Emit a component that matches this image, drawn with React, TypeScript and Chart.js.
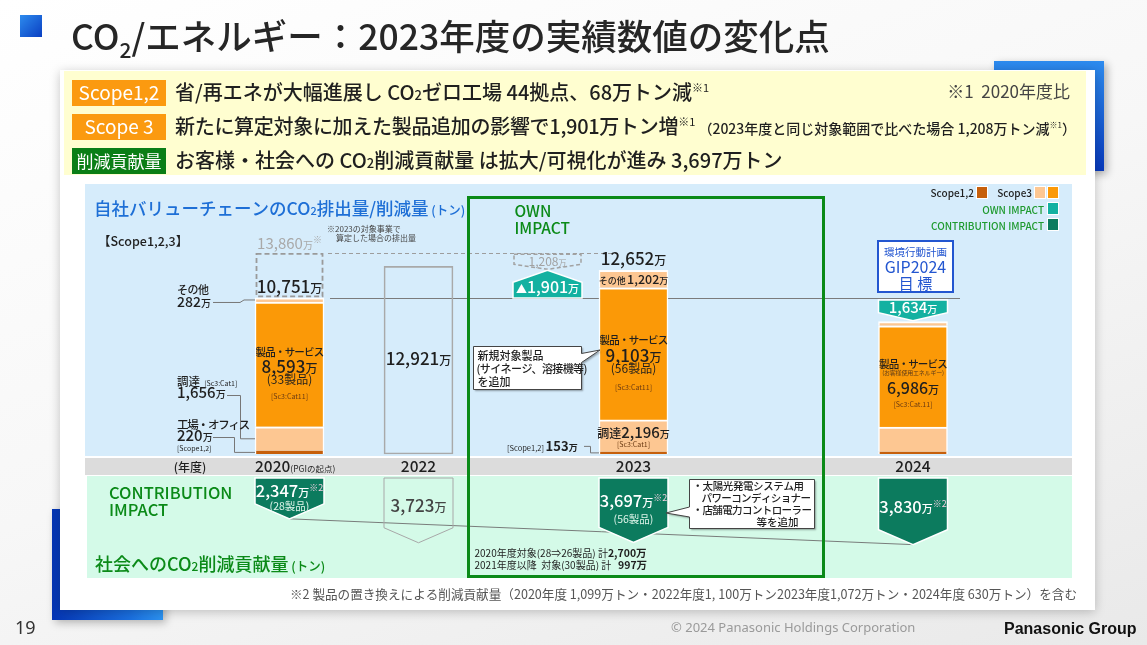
import React, { useEffect, useRef } from 'react';
import { Chart, registerables } from 'chart.js';

Chart.register(...registerables);

const JP = '"Noto Sans CJK JP", "Noto Sans", sans-serif';

// ===== data (unit: 万トン) =====
const fiscalYears = ['2020', '2022', '2023', '2024'];
const scope12 = [220, null, 153, 150];
const procurement = [1656, null, 2196, 1700];
const productsServices = [8593, null, 9103, 6986];
const otherScope3 = [282, null, 1202, 281];
const totalOnly = [null, 12921, null, null];
const totals = [10751, 12921, 12652, 9117];
const comparable2020 = 13860;
const ownIncrease = 1901;
const ownDecrease = 1208;
const gipReduction = 1634;
const productCounts = ['33製品', null, '56製品', null];
const contribution = [2347, 3723, 3697, 3830];
const contributionCounts = ['28製品', null, '56製品', null];
const contributionTrend = [2347, null, null, 3830];

// ===== layout =====
const W = 1147;
const H = 645;
const SLOTS = 30;
const yearSlot = [0, 6, 16, 29];
const ownSlot = 12;
const AREA = { left: 278.75, right: 923.75, top: 184, bottom: 454 };
const Y_MAX = 18600;
const C_TOP = 478;
const C_PX = 0.0174;
const y2Min = -(C_TOP - AREA.top) / C_PX;
const y2Max = y2Min + (AREA.bottom - AREA.top) / C_PX;
const BAR_W = 69;

const COL = {
  scope12: '#c65f0b',
  peach: '#fdc792',
  orange: '#fb9907',
  teal: '#13b1a1',
  dkgreen: '#0c7b5e',
  green: '#0b8a18',
  blue: '#1e6fd6',
  panel: '#d6ecfb',
  band: '#dcdcdc',
  cpanel: '#d4fae8',
  text: '#1f1f1f',
};

const DS = { scope: 0, proc: 1, prod: 2, other: 3, total: 4, cmp: 5, ownDec: 6, ownInc: 7, gip: 8, contrib: 9, trend: 10 };

function toSlots(vals: any[]) {
  const out: any[] = new Array(SLOTS).fill(null);
  vals.forEach((v, i) => { out[yearSlot[i]] = v; });
  return out;
}
function single(slot: number, v: any) {
  const out: any[] = new Array(SLOTS).fill(null);
  out[slot] = v;
  return out;
}

type Run = { t: string; s: number; w?: number; c?: string; dy?: number; f?: string; ls?: number };
const fontOf = (r: Run) => `${r.w ?? 400} ${r.s}px ${r.f ?? JP}`;

function setLs(ctx: any, v: number) {
  if ('letterSpacing' in ctx) ctx.letterSpacing = `${v}px`;
}

function runs(ctx: CanvasRenderingContext2D, x: number, y: number, rs: Run[], align: 'left' | 'center' | 'right' = 'left', color = COL.text) {
  const ws = rs.map(r => {
    ctx.font = fontOf(r);
    setLs(ctx, r.ls ?? 0);
    const m = ctx.measureText(r.t).width;
    setLs(ctx, 0);
    return m;
  });
  const total = ws.reduce((a, b) => a + b, 0);
  let cx = align === 'left' ? x : align === 'center' ? x - total / 2 : x - total;
  ctx.textAlign = 'left';
  ctx.textBaseline = 'alphabetic';
  rs.forEach((r, i) => {
    ctx.font = fontOf(r);
    setLs(ctx, r.ls ?? 0);
    ctx.fillStyle = r.c ?? color;
    ctx.fillText(r.t, cx, y + (r.dy ?? 0));
    setLs(ctx, 0);
    cx += ws[i];
  });
  return total;
}
const fmt = (n: number) => n.toLocaleString('en-US');
function man(n: number, s: number, extra: Partial<Run> = {}): Run[] {
  return [{ t: fmt(n), s, w: 500, ...extra }, { t: '万', s: Math.round(s * 0.68), w: 500, ...extra }];
}
function path(ctx: CanvasRenderingContext2D, pts: number[][], close = false) {
  ctx.beginPath();
  pts.forEach(([x, y], i) => (i ? ctx.lineTo(x, y) : ctx.moveTo(x, y)));
  if (close) ctx.closePath();
}
function line(ctx: CanvasRenderingContext2D, pts: number[][], color: string, lw = 1, dash: number[] = []) {
  ctx.save();
  ctx.setLineDash(dash);
  ctx.strokeStyle = color;
  ctx.lineWidth = lw;
  path(ctx, pts);
  ctx.stroke();
  ctx.restore();
}
function geo(chart: any, ds: number, slot: number) {
  const e: any = chart.getDatasetMeta(ds).data[slot];
  const top = Math.min(e.y, e.base);
  const bottom = Math.max(e.y, e.base);
  return { x: e.x, left: e.x - e.width / 2, right: e.x + e.width / 2, top, bottom, mid: (top + bottom) / 2, w: e.width };
}
function downShape(l: number, r: number, t: number, tip: number, sh: number) {
  const cx = (l + r) / 2;
  return [[l, t], [r, t], [r, tip - sh], [cx, tip], [l, tip - sh]];
}
function callout(ctx: CanvasRenderingContext2D, pts: number[][]) {
  ctx.save();
  ctx.shadowColor = 'rgba(0,0,0,0.35)';
  ctx.shadowOffsetX = 1.5;
  ctx.shadowOffsetY = 1.5;
  ctx.shadowBlur = 2;
  ctx.fillStyle = '#fff';
  path(ctx, pts, true);
  ctx.fill();
  ctx.restore();
  ctx.strokeStyle = '#444';
  ctx.lineWidth = 1;
  path(ctx, pts, true);
  ctx.stroke();
}

const slidePlugin = {
  id: 'slide',
  beforeDatasetsDraw(chart: any) {
    const ctx: CanvasRenderingContext2D = chart.ctx;
    const y = chart.scales.y;
    ctx.save();
    ctx.fillStyle = COL.panel; ctx.fillRect(85, 184, 987, 272);
    ctx.fillStyle = COL.band; ctx.fillRect(85, 458, 987, 17);
    ctx.fillStyle = COL.cpanel; ctx.fillRect(87, 476, 985, 102);
    const b20 = geo(chart, DS.prod, yearSlot[0]);
    const yB = Math.round(y.getPixelForValue(totals[0])) + 0.5;
    line(ctx, [[b20.right + 6, yB], [960, yB]], '#7b7b7b', 1);
    const yC = Math.round(y.getPixelForValue(comparable2020)) + 0.5;
    line(ctx, [[b20.right + 4, yC], [618, yC]], '#9d9d9d', 1, [4, 3]);
    ctx.restore();
  },
  afterDatasetsDraw(chart: any) {
    const ctx: CanvasRenderingContext2D = chart.ctx;
    const xs = yearSlot.map(s => chart.scales.x.getPixelForValue(s));
    ctx.save();

    // ---- slide title ----
    runs(ctx, 71, 50, [
      { t: 'CO', s: 35.5, w: 500 }, { t: '2', s: 21, w: 500, dy: 8 },
      { t: '/エネルギー：2023年度の実績数値の変化点', s: 35.5, w: 500 },
    ], 'left', '#262626');

    // ---- summary rows ----
    const rowTop = [80, 114, 148];
    const tags = [
      { t: 'Scope1,2', c: '#fb9a10', s: 19 },
      { t: 'Scope 3', c: '#fb9a10', s: 19 },
      { t: '削減貢献量', c: '#0a7e16', s: 17 },
    ];
    tags.forEach((g, i) => {
      ctx.fillStyle = g.c;
      ctx.fillRect(72, rowTop[i], 94, 26);
      runs(ctx, 119, rowTop[i] + 20, [{ t: g.t, s: g.s, w: 400 }], 'center', '#fff');
    });
    runs(ctx, 175, rowTop[0] + 20, [
      { t: '省/再エネが大幅進展し CO', s: 20, w: 500 }, { t: '2', s: 13, w: 500 },
      { t: 'ゼロ工場 44拠点、68万トン減', s: 20, w: 500 }, { t: '※1', s: 11, dy: -8 },
    ]);
    runs(ctx, 1070, rowTop[0] + 18, [{ t: '※1  2020年度比', s: 17 }], 'right', '#444');
    runs(ctx, 175, rowTop[1] + 20, [
      { t: '新たに算定対象に加えた製品追加の影響で1,901万トン増', s: 20, w: 500, ls: -0.3 }, { t: '※1', s: 11, dy: -8 },
      { t: ' （2023年度と同じ対象範囲で比べた場合 1,208万トン減', s: 14, w: 500 }, { t: '※1', s: 8, dy: -6 },
      { t: '）', s: 14, w: 500 },
    ]);
    runs(ctx, 175, rowTop[2] + 20, [
      { t: 'お客様・社会への CO', s: 20, w: 500 }, { t: '2', s: 13, w: 500 },
      { t: '削減貢献量 は拡大/可視化が進み 3,697万トン', s: 20, w: 500 },
    ]);

    // ---- panel titles ----
    runs(ctx, 94, 215, [
      { t: '自社バリューチェーンのCO', s: 17.5, w: 500 }, { t: '2', s: 11, w: 500 },
      { t: '排出量/削減量', s: 17.5, w: 500 }, { t: ' (トン)', s: 12.5, w: 500 },
    ], 'left', COL.blue);
    runs(ctx, 98, 246, [{ t: '【Scope1,2,3】', s: 12.5, w: 500 }]);

    // ---- legend ----
    const sw = (x: number, yy: number, c: string) => {
      ctx.fillStyle = '#fff'; ctx.fillRect(x - 1, yy - 1, 12, 13);
      ctx.fillStyle = c; ctx.fillRect(x, yy, 10, 11);
    };
    runs(ctx, 974, 197, [{ t: 'Scope1,2', s: 10, w: 500 }], 'right');
    sw(977, 187, COL.scope12);
    runs(ctx, 1032, 197, [{ t: 'Scope3', s: 10, w: 500 }], 'right');
    sw(1035, 187, COL.peach);
    sw(1048, 187, COL.orange);
    runs(ctx, 1044, 214, [{ t: 'OWN IMPACT', s: 10, w: 500 }], 'right', '#1e9a2e');
    sw(1048, 203, COL.teal);
    runs(ctx, 1044, 230, [{ t: 'CONTRIBUTION IMPACT', s: 10, w: 500 }], 'right', '#1e9a2e');
    sw(1048, 219, COL.dkgreen);

    // ---- OWN IMPACT frame ----
    const fL = Math.round(xs[2] - 166) + 0.5;
    ctx.strokeStyle = COL.green;
    ctx.lineWidth = 3;
    ctx.strokeRect(fL, 197.5, 355, 379);
    runs(ctx, fL + 46, 217, [{ t: 'OWN', s: 15.5, w: 500 }], 'left', COL.green);
    runs(ctx, fL + 46, 234, [{ t: 'IMPACT', s: 15.5, w: 500 }], 'left', COL.green);

    // ---- 2020 ----
    const cmp = geo(chart, DS.cmp, yearSlot[0]);
    ctx.save();
    ctx.setLineDash([5, 3]);
    ctx.strokeStyle = '#9a9a9a';
    ctx.lineWidth = 1.8;
    ctx.strokeRect(cmp.left + 1.5, cmp.top + 1, cmp.w - 3, cmp.bottom - cmp.top - 2.5);
    ctx.restore();
    runs(ctx, cmp.x, cmp.top - 4, [...man(comparable2020, 15, { c: '#a9a9a9', w: 400 }), { t: '※', s: 9, c: '#a9a9a9', dy: -6 }], 'center');
    runs(ctx, cmp.right + 3, cmp.top - 21, [{ t: '※2023の対象事業で', s: 8 }], 'left', '#444');
    runs(ctx, cmp.right + 12, cmp.top - 12, [{ t: '算定した場合の排出量', s: 8 }], 'left', '#444');
    runs(ctx, cmp.x, cmp.bottom - 5, man(totals[0], 17, { w: 500 }), 'center');

    const o20 = geo(chart, DS.other, yearSlot[0]);
    const p20 = geo(chart, DS.proc, yearSlot[0]);
    const s20 = geo(chart, DS.scope, yearSlot[0]);
    const m20 = geo(chart, DS.prod, yearSlot[0]);
    runs(ctx, 177, o20.mid - 6, [{ t: 'その他', s: 11, w: 500, ls: -0.5 }]);
    runs(ctx, 177, o20.mid + 7, man(otherScope3[0], 14));
    line(ctx, [[213, o20.mid + 2.5], [240, o20.mid + 2.5], [244, o20.mid], [o20.left, o20.mid]], '#777');
    runs(ctx, 177, 386, [{ t: '調達 ', s: 11.5, w: 500 }, { t: ' [Sc3:Cat1]', s: 7 }]);
    runs(ctx, 177, 398, man(procurement[0], 15));
    line(ctx, [[227, 395.5], [240.5, 395.5], [240.5, p20.mid], [p20.left, p20.mid]], '#777');
    runs(ctx, 177, 429, [{ t: '工場・オフィス', s: 11.5, w: 500, ls: -1.2 }]);
    runs(ctx, 177, 441, man(scope12[0], 15));
    runs(ctx, 177, 451, [{ t: '[Scope1,2]', s: 7 }]);
    line(ctx, [[213, 437.5], [234.5, 437.5], [234.5, s20.mid], [s20.left, s20.mid]], '#777');

    const prodText = (g: any, i: number, off: number[], numSize: number) => {
      runs(ctx, g.x, g.mid + off[0], [{ t: '製品・サービス', s: 10.5, w: 500, ls: -0.8 }], 'center');
      runs(ctx, g.x, g.mid + off[1], man(productsServices[i], numSize), 'center');
      runs(ctx, g.x, g.mid + off[2], [{ t: `(${productCounts[i]})`, s: 12 }], 'center');
      runs(ctx, g.x, g.mid + off[3], [{ t: '[Sc3:Cat11]', s: 7 }], 'center', '#6b3a12');
    };
    prodText(m20, 0, [-8, 9, 20, 35], 17);

    // ---- 2022 ----
    const t22 = geo(chart, DS.total, yearSlot[1]);
    runs(ctx, t22.x, t22.mid + 5, man(totalOnly[1] as number, 17), 'center');

    // ---- OWN IMPACT shapes ----
    const dec = geo(chart, DS.ownDec, ownSlot);
    const dTop = dec.top + 1.5;
    ctx.save();
    ctx.setLineDash([4, 2.5]);
    ctx.strokeStyle = '#a2a2a2';
    ctx.lineWidth = 1.5;
    path(ctx, downShape(dec.left + 1, dec.right - 1, dTop, dec.bottom - 1, 5), true);
    ctx.stroke();
    ctx.restore();
    runs(ctx, dec.x, dTop + 12, man(ownDecrease, 12, { c: '#a2a2a2', w: 400 }), 'center');

    const inc = geo(chart, DS.ownInc, ownSlot);
    path(ctx, [[inc.left, inc.bottom], [inc.left, inc.top + 12], [inc.x, inc.top], [inc.right, inc.top + 12], [inc.right, inc.bottom]], true);
    ctx.fillStyle = COL.teal;
    ctx.fill();
    ctx.strokeStyle = '#fff';
    ctx.lineWidth = 1.5;
    ctx.stroke();
    runs(ctx, inc.x, inc.bottom - 5, [{ t: '▲', s: 11, c: '#fff' }, ...man(ownIncrease, 16, { c: '#fff' })], 'center');

    // ---- 2023 ----
    const o23 = geo(chart, DS.other, yearSlot[2]);
    const p23 = geo(chart, DS.proc, yearSlot[2]);
    const s23 = geo(chart, DS.scope, yearSlot[2]);
    const m23 = geo(chart, DS.prod, yearSlot[2]);
    runs(ctx, o23.x, o23.top - 5, man(totals[2], 17), 'center');
    runs(ctx, o23.x, o23.mid + 4.5, [{ t: 'その他', s: 9, w: 500 }, { t: ' ', s: 6 }, ...man(otherScope3[2], 12.5)], 'center');
    prodText(m23, 2, [-10, 8, 19, 36], 17);
    runs(ctx, p23.x, p23.mid + 2, [{ t: '調達', s: 12, w: 500 }, ...man(procurement[2], 15)], 'center');
    runs(ctx, p23.x, p23.mid + 11, [{ t: '[Sc3:Cat1]', s: 7 }], 'center', '#6b3a12');
    runs(ctx, 507, s23.mid - 2, [{ t: '[Scope1,2] ', s: 7.5 }, ...man(scope12[2], 13, { w: 600 })]);
    line(ctx, [[584, s23.mid - 6.5], [590.5, s23.mid - 6.5], [590.5, s23.mid], [s23.left, s23.mid]], '#777');

    // callout: new products
    const cb = { l: 473.5, r: 581.5, t: 346.5, b: 389.5 };
    callout(ctx, [[cb.l, cb.t], [cb.r, cb.t], [cb.r, cb.t + 7], [m23.left + 1, 350], [cb.r, cb.t + 16], [cb.r, cb.b], [cb.l, cb.b]]);
    runs(ctx, cb.l + 4, 360, [{ t: '新規対象製品', s: 11, w: 500 }]);
    runs(ctx, cb.l + 3, 373, [{ t: '(サイネージ、溶接機等)', s: 11, w: 500, ls: -0.6 }]);
    runs(ctx, cb.l + 4, 386, [{ t: 'を追加', s: 11, w: 500 }]);

    // ---- 2024 ----
    const gx = xs[3];
    ctx.fillStyle = '#fff';
    ctx.fillRect(gx - 35, 241, 75, 51);
    ctx.strokeStyle = '#2356d0';
    ctx.lineWidth = 2;
    ctx.strokeRect(gx - 35, 241, 75, 51);
    runs(ctx, gx + 2.5, 256, [{ t: '環境行動計画', s: 10.5 }], 'center', '#2356d0');
    runs(ctx, gx + 2.5, 273, [{ t: 'GIP2024', s: 16 }], 'center', '#2356d0');
    runs(ctx, gx + 2.5, 289, [{ t: '目 標', s: 15 }], 'center', '#2356d0');

    const gp = geo(chart, DS.gip, yearSlot[3]);
    path(ctx, downShape(gp.left, gp.right, gp.top + 2, gp.bottom - 1, 8), true);
    ctx.fillStyle = COL.teal;
    ctx.fill();
    ctx.strokeStyle = '#fff';
    ctx.lineWidth = 1.5;
    ctx.stroke();
    runs(ctx, gp.x, gp.top + 15, man(gipReduction, 15, { c: '#fff' }), 'center');

    const m24 = geo(chart, DS.prod, yearSlot[3]);
    runs(ctx, m24.x, m24.mid - 8.5, [{ t: '製品・サービス', s: 10.5, w: 500, ls: -0.8 }], 'center');
    runs(ctx, m24.x, m24.mid - 1, [{ t: '(お客様使用エネルギー)', s: 6, ls: -0.2 }], 'center', '#5a3a1a');
    runs(ctx, m24.x, m24.mid + 17.5, man(productsServices[3], 16), 'center');
    runs(ctx, m24.x, m24.mid + 30.5, [{ t: '[Sc3:Cat.11]', s: 7 }], 'center', '#6b3a12');

    // ---- fiscal year band ----
    runs(ctx, 190, 472, [{ t: '(年度)', s: 12, w: 500 }], 'center');
    runs(ctx, m20.left, 472, [{ t: fiscalYears[0], s: 15.5, w: 500 }, { t: '(PGIの起点)', s: 8.5 }]);
    for (let i = 1; i < 4; i++) runs(ctx, xs[i], 472, [{ t: fiscalYears[i], s: 15.5, w: 500 }], 'center');

    // ---- contribution panel ----
    runs(ctx, 109, 499, [{ t: 'CONTRIBUTION', s: 16.5, w: 500 }], 'left', COL.green);
    runs(ctx, 109, 516, [{ t: 'IMPACT', s: 16.5, w: 500 }], 'left', COL.green);
    runs(ctx, 95, 571, [
      { t: '社会へのCO', s: 18, w: 500 }, { t: '2', s: 12, w: 500 },
      { t: '削減貢献量', s: 18, w: 500 }, { t: ' (トン)', s: 12.5, w: 500 },
    ], 'left', COL.green);

    const numOff = [19, 34, 29, 35];
    const cntOff = [32, 0, 45, 0];
    contribution.forEach((v, i) => {
      const g = geo(chart, DS.contrib, yearSlot[i]);
      const pts = downShape(g.left, g.right, g.top, g.bottom, 15);
      path(ctx, pts, true);
      if (i === 1) {
        ctx.strokeStyle = '#a8a8a8';
        ctx.lineWidth = 1;
        ctx.stroke();
        runs(ctx, g.x, g.top + numOff[i], man(v, 17, { c: '#444' }), 'center');
      } else {
        ctx.fillStyle = COL.dkgreen;
        ctx.fill();
        ctx.strokeStyle = '#fff';
        ctx.lineWidth = 1.5;
        ctx.stroke();
        runs(ctx, g.x, g.top + numOff[i], [...man(v, 16.5, { c: '#fff' }), { t: '※2', s: 9, c: '#f2cfe0', dy: -6 }], 'center');
        if (contributionCounts[i]) runs(ctx, g.x, g.top + cntOff[i], [{ t: `(${contributionCounts[i]})`, s: 10.5, c: '#dff5ea' }], 'center');
      }
    });

    const c23 = geo(chart, DS.contrib, yearSlot[2]);
    const kb = { l: 689.5, r: 814.5, t: 479.5, b: 528.5 };
    callout(ctx, [[kb.l, kb.t], [kb.r, kb.t], [kb.r, kb.b], [kb.l, kb.b], [kb.l, 517], [c23.right - 2, 513], [kb.l, 507]]);
    runs(ctx, kb.l + 3, 490, [{ t: '・太陽光発電システム用', s: 10.5, w: 500, ls: -0.4 }]);
    runs(ctx, kb.l + 12, 502, [{ t: 'パワーコンディショナー', s: 10.5, w: 500, ls: -0.6 }]);
    runs(ctx, kb.l + 3, 514, [{ t: '・店舗電力コントローラー', s: 10.5, w: 500, ls: -0.6 }]);
    runs(ctx, kb.r - 16, 526, [{ t: '等を追加', s: 10.5, w: 500 }], 'right');

    runs(ctx, fL + 6, 557, [{ t: '2020年度対象(28⇒26製品) 計', s: 10 }, { t: '2,700万', s: 10.5, w: 600 }]);
    runs(ctx, fL + 6, 569, [{ t: '2021年度以降  対象(30製品) 計   ', s: 10 }, { t: '997万', s: 10.5, w: 600 }]);

    // ---- footnote & footer ----
    runs(ctx, 290, 599, [{ t: '※2 製品の置き換えによる削減貢献量（2020年度 1,099万トン・2022年度1, 100万トン2023年度1,072万トン・2024年度 630万トン）を含む', s: 12.6 }], 'left', '#555');
    runs(ctx, 15, 634, [{ t: '19', s: 18, f: '"Noto Sans", sans-serif' }], 'left', '#333');
    runs(ctx, 671, 632, [{ t: '© 2024 Panasonic Holdings Corporation', s: 13, f: '"Noto Sans", sans-serif' }], 'left', '#9a9a9a');
    runs(ctx, 1004, 634, [{ t: 'Panasonic Group', s: 16, w: 700, f: '"Liberation Sans", Arial, sans-serif' }], 'left', '#111');

    ctx.restore();
  },
};

function buildConfig(): any {
  const labels = new Array(SLOTS).fill('');
  yearSlot.forEach((s, i) => { labels[s] = fiscalYears[i]; });
  const none = 'rgba(0,0,0,0)';
  const seg = { top: 2, left: 1.5, right: 1.5, bottom: 0 };
  return {
    type: 'bar',
    data: {
      labels,
      datasets: [
        { label: 'Scope1,2', data: toSlots(scope12), backgroundColor: COL.scope12, borderColor: '#fff', borderWidth: { top: 0, left: 1.5, right: 1.5, bottom: 0 }, stack: 'main', clip: false },
        { label: '調達', data: toSlots(procurement), backgroundColor: COL.peach, borderColor: '#fff', borderWidth: seg, stack: 'main', clip: false },
        { label: '製品・サービス', data: toSlots(productsServices), backgroundColor: COL.orange, borderColor: '#fff', borderWidth: seg, stack: 'main', clip: false },
        { label: 'その他', data: toSlots(otherScope3), backgroundColor: COL.peach, borderColor: '#fff', borderWidth: seg, stack: 'main', clip: false },
        { label: '合計', data: toSlots(totalOnly), backgroundColor: none, borderColor: '#a9a9a9', borderWidth: 1, borderSkipped: false, stack: 'main', clip: false },
        { label: '2023対象事業換算', data: single(yearSlot[0], [totals[0], comparable2020]), backgroundColor: none, borderWidth: 0, stack: 'cmp', clip: false },
        { label: '減', data: single(ownSlot, [comparable2020 - ownDecrease, comparable2020]), backgroundColor: none, borderWidth: 0, stack: 'ownDec', clip: false },
        { label: '増', data: single(ownSlot, [totals[0], totals[0] + ownIncrease]), backgroundColor: none, borderWidth: 0, stack: 'ownInc', clip: false },
        { label: 'GIP2024', data: single(yearSlot[3], [totals[0] - gipReduction, totals[0]]), backgroundColor: none, borderWidth: 0, stack: 'gip', clip: false },
        { label: '削減貢献量', data: toSlots(contribution), yAxisID: 'y2', base: 0, backgroundColor: none, borderWidth: 0, stack: 'contrib', clip: false },
        { type: 'line', label: 'trend', data: toSlots(contributionTrend), yAxisID: 'y2', spanGaps: true, clip: false, borderColor: '#6e6e6e', borderWidth: 0.9, pointRadius: 0, fill: false, tension: 0, order: 20 },
      ],
    },
    options: {
      responsive: false,
      maintainAspectRatio: false,
      animation: false,
      devicePixelRatio: 1,
      events: [],
      layout: { padding: { left: AREA.left, right: W - AREA.right, top: AREA.top, bottom: H - AREA.bottom } },
      plugins: { legend: { display: false }, tooltip: { enabled: false } },
      datasets: { bar: { grouped: false, barThickness: BAR_W } },
      scales: {
        x: { display: false, stacked: true },
        y: { display: false, stacked: true, min: 0, max: Y_MAX },
        y2: { display: false, min: y2Min, max: y2Max, reverse: true, position: 'right' },
      },
    },
    plugins: [slidePlugin],
  };
}

export default function App() {
  const ref = useRef<HTMLCanvasElement>(null);
  useEffect(() => {
    if (!ref.current) return;
    const chart = new Chart(ref.current, buildConfig());
    let alive = true;
    const fonts: any = (document as any).fonts;
    if (fonts && fonts.ready) fonts.ready.then(() => { if (alive) chart.draw(); });
    return () => { alive = false; chart.destroy(); };
  }, []);
  const abs: React.CSSProperties = { position: 'absolute' };
  return (
    <div style={{ ...abs, left: 0, top: 0, width: W, height: H, overflow: 'hidden', background: 'linear-gradient(160deg, #ffffff 0%, #f7f7f7 50%, #e9e9e9 100%)' }}>
      <div style={{ ...abs, left: 20, top: 15, width: 22, height: 22, background: 'linear-gradient(135deg, #2d8bee 0%, #0a3fc2 100%)' }} />
      <div style={{ ...abs, left: 994, top: 61, width: 110, height: 110, background: 'linear-gradient(180deg, #2d8bee 0%, #0839bb 100%)', boxShadow: '3px 3px 8px rgba(0,0,0,0.3)' }} />
      <div style={{ ...abs, left: 52, top: 509, width: 111, height: 111, background: 'linear-gradient(90deg, #0535b4 0%, #1a6fe0 70%, #2c93f2 100%)', boxShadow: '3px 3px 8px rgba(0,0,0,0.25)' }} />
      <div style={{ ...abs, left: 60, top: 70, width: 1035, height: 540, background: '#fff', boxShadow: '0 2px 10px rgba(0,0,0,0.22)' }} />
      <div style={{ ...abs, left: 64, top: 71, width: 1022, height: 104, background: '#fffed0' }} />
      <canvas ref={ref} width={W} height={H} style={{ ...abs, left: 0, top: 0, width: W, height: H }} />
    </div>
  );
}
